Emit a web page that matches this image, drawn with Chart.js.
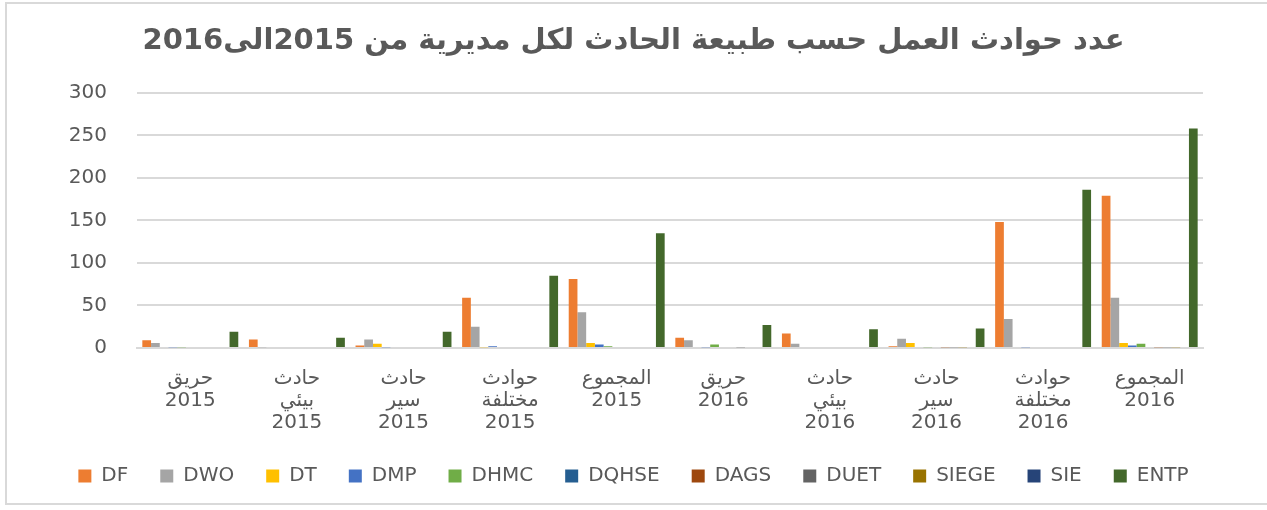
<!DOCTYPE html>
<html>
<head>
<meta charset="utf-8">
<script src="https://cdn.jsdelivr.net/npm/chart.js@4"></script>
<style>
  html, body { margin: 0; padding: 0; background: #fff; width: 1267px; height: 510px; overflow: hidden; }
  #frame { position: absolute; left: 5px; top: 2px; width: 1280px; height: 503px; border: 2px solid #d9d9d9; border-right: none; box-sizing: border-box; }
  #c { position: absolute; left: 0; top: 0; }
</style>
</head>
<body>
<div id="frame"></div>
<canvas id="c" width="1267" height="510"></canvas>
<script>
const titleText = 'عدد حوادث العمل حسب طبيعة الحادث لكل مديرية من 2015الى2016';
const categories = [
  ['حريق', '2015'],
  ['حادث', 'بيئي', '2015'],
  ['حادث', 'سير', '2015'],
  ['حوادث', 'مختلفة', '2015'],
  ['المجموع', '2015'],
  ['حريق', '2016'],
  ['حادث', 'بيئي', '2016'],
  ['حادث', 'سير', '2016'],
  ['حوادث', 'مختلفة', '2016'],
  ['المجموع', '2016']
];
const seriesNames = ['DF', 'DWO', 'DT', 'DMP', 'DHMC', 'DQHSE', 'DAGS', 'DUET', 'SIEGE', 'SIE', 'ENTP'];
const DF    = [9, 10, 3, 59, 81, 12, 17, 2, 148, 179];
const DWO   = [6, 1, 10, 25, 42, 9, 5, 11, 34, 59];
const DT    = [0, 0, 5, 1, 6, 0, 0, 6, 0, 6];
const DMP   = [1, 0, 1, 2, 4, 1, 0, 0, 1, 3];
const DHMC  = [1, 0, 0, 0, 2, 4, 0, 1, 0, 5];
const DQHSE = [0, 0, 0, 0, 0, 0, 0, 0, 0, 0];
const DAGS  = [0, 0, 0, 0, 0, 0, 0, 1, 0, 1];
const DUET  = [0, 0, 0, 0, 0, 1, 0, 1, 0, 1];
const SIEGE = [0, 0, 0, 0, 0, 0, 0, 1, 0, 1];
const SIE   = [0, 0, 0, 0, 0, 0, 0, 0, 0, 0];
const ENTP  = [19, 12, 19, 85, 135, 27, 22, 23, 186, 258];
const yTicks = [0, 50, 100, 150, 200, 250, 300];

const seriesValues = [DF, DWO, DT, DMP, DHMC, DQHSE, DAGS, DUET, SIEGE, SIE, ENTP];
const seriesColors = ['#ED7D31', '#A5A5A5', '#FFC000', '#4472C4', '#70AD47', '#255E91', '#9E480E', '#636363', '#997300', '#264478', '#43682B'];

const textColor = '#595959';
const fontFam = "'DejaVu Sans', 'Liberation Sans', sans-serif";

new Chart(document.getElementById('c'), {
  type: 'bar',
  data: {
    labels: categories,
    datasets: seriesNames.map((n, i) => ({
      label: n,
      data: seriesValues[i],
      backgroundColor: seriesColors[i],
      borderWidth: 0,
      categoryPercentage: 0.9,
      barPercentage: 1.0
    }))
  },
  options: {
    responsive: false,
    devicePixelRatio: 1,
    animation: false,
    layout: { padding: { left: 0, right: 0, top: 0, bottom: 14 } },
    plugins: {
      title: {
        display: true,
        text: titleText,
        color: textColor,
        font: { family: fontFam, size: 29, weight: 'bold' },
        padding: { top: 24, bottom: 34 }
      },
      legend: {
        position: 'bottom',
        labels: {
          color: textColor,
          font: { family: fontFam, size: 20 },
          boxWidth: 13,
          boxHeight: 13,
          padding: 32
        }
      },
      tooltip: { enabled: false }
    },
    scales: {
      y: {
        min: 0,
        max: 300,
        afterBuildTicks: (s) => { s.ticks = yTicks.map(v => ({ value: v })); },
        afterFit: (s) => { s.width = 137; },
        ticks: { color: textColor, font: { family: fontFam, size: 20 }, padding: 30 },
        grid: { color: '#d9d9d9', lineWidth: 2, drawTicks: false },
        border: { display: false }
      },
      yRight: {
        position: 'right',
        afterFit: (s) => { s.width = 64; },
        ticks: { display: false },
        grid: { display: false, drawTicks: false },
        border: { display: false }
      },
      x: {
        afterFit: (s) => { s.height = 86; },
        ticks: { color: textColor, font: { family: fontFam, size: 20, lineHeight: 1.1 }, padding: 12, maxRotation: 0, autoSkip: false },
        grid: { display: false },
        border: { color: '#d9d9d9', width: 2 }
      }
    }
  }
});
</script>
</body>
</html>
